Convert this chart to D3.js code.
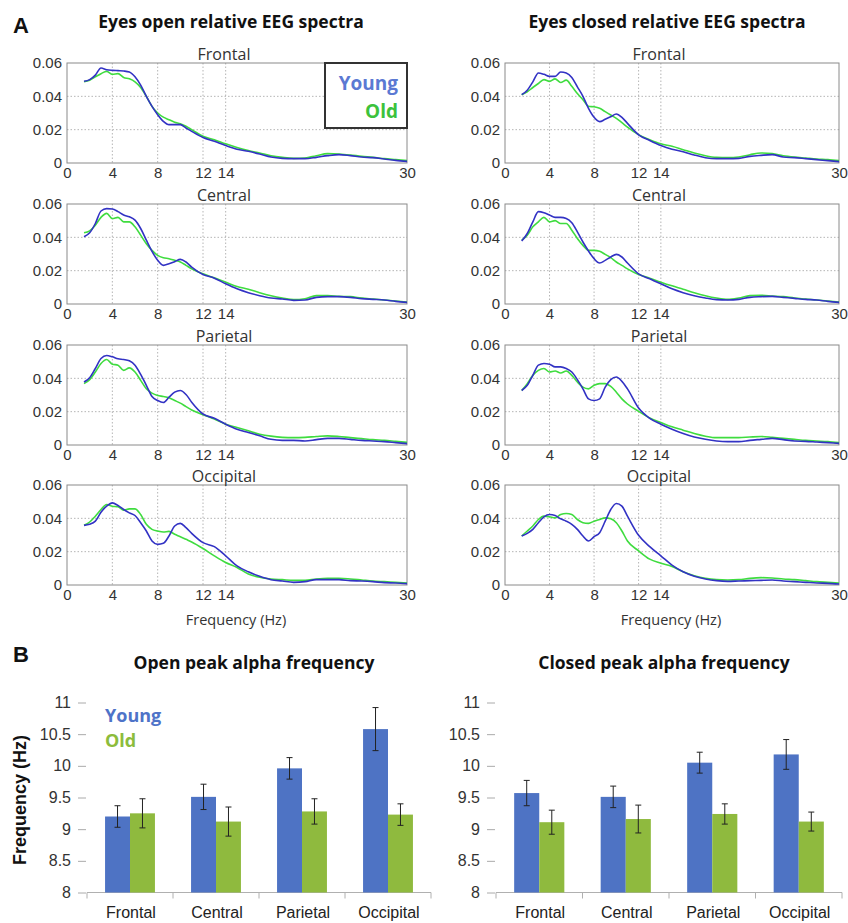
<!DOCTYPE html>
<html>
<head>
<meta charset="utf-8">
<title>EEG spectra and peak alpha frequency</title>
<script src="https://d3js.org/d3.v7.min.js"></script>
<style>
  body { margin: 0; background: #fff; }
  svg text { fill: #333; }
</style>
</head>
<body>
<div id="chart"></div>
<script>

// ---- Data -----------------------------------------------------------------
// spectra: relative power x 1000, sampled at these frequencies (Hz)
var freqs = [1.5,2,2.5,3,3.5,4,4.5,5,5.5,6,6.5,7,7.5,8,8.5,9,9.5,10,10.5,11,12,13,14,15,16,17,18,19,20,21,22,23,24,25,26,27,28,29,30];

var openFrontalYoung = [49,50,52.7,57,56,55.6,55.4,55.2,54.6,51.7,46.7,40,34,29,25,23,23,23,21,19,15.3,13,10.5,8.3,7,5.4,3.6,2.8,2.6,2.6,3.4,4.4,5,4.4,3.6,3.2,2.4,1.6,1.0];
var openFrontalOld   = [48.7,49.7,51.7,53.6,55,53.2,53.6,51.3,50.5,48.7,45.3,40,34,30,27.5,26,24.5,23.5,22,20,16,14,11.5,9.3,7.5,6,4.4,3.4,2.8,3,4.4,5.6,5.4,4.8,4,3.4,2.6,2,1.4];
var openCentralYoung = [40.3,42.7,48.3,55.8,57.2,57,55.4,53.4,52.3,50.3,45.3,38.3,31.6,26.2,23.2,24.2,25.4,26.8,25.2,22.1,17.7,15.5,12.1,9.1,6.8,5,3.6,3,2.2,2.4,4,4.4,4.4,4,3.2,2.8,2.4,1.6,1];
var openCentralOld   = [42.7,43.9,47.3,52,54.4,51.3,52,49.3,49.3,46.3,41.3,36.2,32.2,29.2,27.8,27.2,26.2,25.2,23.2,21.1,18.1,15.7,13.1,10.5,8.9,6.8,5,3.6,2.6,3.2,5,5,4.6,4.4,3.6,3,2.4,1.8,1.2];
var openParietalYoung = [37.8,40.4,45.9,51.9,53.7,52.9,51.7,51.3,50.5,47.9,42.4,35.8,29.1,26.7,25.5,28.7,31.7,32.7,30.3,25.7,18.6,16,12.5,9.5,7.5,5.5,3.4,2.8,2.8,2.4,3.2,4,4,3.4,2.8,2.4,2,1.4,0.8];
var openParietalOld   = [36.8,39.2,43.8,48.9,51.3,48.5,47.9,44.8,46.3,43.8,38.8,33.7,31.1,29.7,29.1,28.3,26.7,25.1,23,21,18.2,15.6,12.5,10.5,8.5,6.5,5.3,4.6,4.4,4.6,5.1,5.5,5.1,4.4,3.8,3.2,2.8,2.2,1.6];
var openOccipitalYoung = [35.8,36.4,38.3,43.7,47.3,49.3,47.7,45.3,43.3,41.7,37.4,32.4,26.4,24.4,25,29.4,35.4,37,34.4,31,25.4,23,17.5,11.5,7.9,5.2,3.2,2.4,1.6,2,3.2,3.2,3.2,2.6,2.4,2,1.4,1.2,0.8];
var openOccipitalOld   = [35.8,37.8,41.3,45.3,48.3,47.3,46.9,44.9,45.7,45.7,42.3,36.4,33.4,32.4,31.8,32.2,30.4,29,27.4,25.8,21.9,17.5,13.5,10.5,6.6,4.6,3.6,3.2,2.8,2.8,3.6,4,4,3.6,3,2.4,2,1.6,1.2];

var closedFrontalYoung = [41,43.7,48.7,54,53.2,52,52,54.6,54,51.3,45.7,40,32.8,27.4,24.8,26.2,27.8,29.4,27.4,23.8,16.9,13.5,10.5,8.3,6.8,4.8,3.2,2.6,2.6,2.8,4,4.6,5,3.6,3.2,2.6,2,1.4,0.8];
var closedFrontalOld   = [41,42.7,45.3,47.7,50,49,50.5,48.3,49.7,46,41.7,38,34,33.7,32.8,30.8,28.8,26.8,24.2,21.5,17,14,11.5,10,8,6,4.4,3.4,3.2,3.6,5,6,5.6,4.4,3.6,3,2.4,2,1.4];
var closedCentralYoung = [37.8,42.3,49.3,55.4,54.8,53.4,52,52,51.3,48.7,43.3,37.2,31.8,27.2,24.6,26.2,28.2,29.8,28.2,24.6,18.1,15.1,12.1,9.1,6.8,5,3.6,2.6,2.4,2.8,4,4.4,4.6,4,3.4,2.8,2.4,1.6,1];
var closedCentralOld   = [38.3,41.3,46.3,49.3,52,49.3,50,48.3,48.3,44.3,39.3,35.2,32.2,32.2,31.6,29.8,27.8,25.2,23.2,21.1,17.7,15.5,13.1,10.9,8.9,6.8,5,3.6,2.8,3.6,5,5.2,4.8,4.4,3.6,3,2.4,1.8,1.2];
var closedParietalYoung = [32.7,35.8,41.8,47.9,48.9,48.5,46.9,46.9,45.9,43.8,39.2,33.7,27.7,26.7,27.7,34.7,39.2,40.8,38.2,33.7,22.2,16,12.5,9.5,6.9,4.8,3.4,2.4,2,2,2.8,3.4,4,3.2,2.4,2.2,1.8,1.4,1];
var closedParietalOld   = [32.7,36.8,41.8,44.8,45.9,43.8,44.4,43.2,44.4,41.8,37.8,34.7,33.7,35.8,36.8,36.8,35.2,31.7,27.7,24.6,20.2,16.2,13.5,10.9,8.9,6.9,5.3,4.4,4.4,4.4,4.8,5.1,4.6,4,3.4,2.8,2.4,2,1.4];
var closedOccipitalYoung = [29.4,31,33.4,37.4,40.9,42.3,41.7,39.7,38.3,36.4,33.4,29.4,26.4,29,31.4,38.3,45.3,48.9,47.3,41.3,29.8,23,17.5,11.9,7.9,5.2,3.6,2.6,2.2,2.4,2.6,2.8,3,2.4,2,1.6,1.2,1,0.6];
var closedOccipitalOld   = [29.4,32.4,35.4,39.3,41.3,40.9,40.3,42.3,42.9,42.3,39.3,37.4,37,38.3,39.3,40.3,39.7,37.4,32.4,26.4,20.5,15.5,13.1,11.1,7.9,5.6,4,3.2,3,3.2,4,4.4,4.2,3.6,3.2,2.6,2,1.6,1.2];

var regions = ["Frontal", "Central", "Parietal", "Occipital"];
var xTicks = [0, 4, 8, 12, 14, 30];
var yTicks = [0, 0.02, 0.04, 0.06];

// peak alpha frequency (Hz) and error bars
var paTicks = [8, 8.5, 9, 9.5, 10, 10.5, 11];
var openYoung = [9.2, 9.51, 9.96, 10.58];
var openYoungErr = [0.17, 0.2, 0.17, 0.34];
var openOld = [9.25, 9.12, 9.28, 9.23];
var openOldErr = [0.23, 0.23, 0.2, 0.17];
var closedYoung = [9.57, 9.51, 10.05, 10.18];
var closedYoungErr = [0.2, 0.17, 0.165, 0.235];
var closedOld = [9.11, 9.16, 9.24, 9.12];
var closedOldErr = [0.19, 0.22, 0.16, 0.15];

// ---- Setup ----------------------------------------------------------------
var W = 848, H = 923;
var svg = d3.select("#chart").append("svg")
    .attr("width", W).attr("height", H)
    .style("font-family", "'Liberation Sans', Arial, sans-serif");

var lineYoung = "#3232c4", lineOld = "#3fdc3f";
var barYoung = "#4e73c4", barOld = "#8fba3e";

var panelTops = [63, 204, 345, 485];
var panelH = 100;

var spectra = [
  { title: "Eyes open relative EEG spectra", tx: 231, x0: 67, x1: 407,
    young: [openFrontalYoung, openCentralYoung, openParietalYoung, openOccipitalYoung],
    old: [openFrontalOld, openCentralOld, openParietalOld, openOccipitalOld], legend: true },
  { title: "Eyes closed relative EEG spectra", tx: 667, x0: 505, x1: 839,
    young: [closedFrontalYoung, closedCentralYoung, closedParietalYoung, closedOccipitalYoung],
    old: [closedFrontalOld, closedCentralOld, closedParietalOld, closedOccipitalOld], legend: false }
];

// panel letters
svg.append("text").attr("x", 13).attr("y", 33).text("A")
    .style("font-size", "22px").style("font-weight", "bold").style("fill", "#111");
svg.append("text").attr("x", 13).attr("y", 662).text("B")
    .style("font-size", "22px").style("font-weight", "bold").style("fill", "#111");

// ---- Spectra (A) ----------------------------------------------------------
spectra.forEach(function(col) {
  svg.append("text")
      .attr("x", col.tx).attr("y", 28)
      .attr("text-anchor", "middle")
      .style("font-family", "'Open Sans', sans-serif")
      .style("font-size", "17.5px").style("font-weight", "bold")
      .style("fill", "#111")
      .text(col.title);

  var x = d3.scaleLinear().domain([0, 30]).range([col.x0, col.x1]);

  regions.forEach(function(reg, i) {
    var top = panelTops[i];
    var y = d3.scaleLinear().domain([0, 0.06]).range([top + panelH, top]);
    var g = svg.append("g");

    // dotted grid
    g.selectAll(".vg").data([4, 8, 12, 14]).enter().append("line")
        .attr("x1", d => x(d)).attr("x2", d => x(d))
        .attr("y1", top).attr("y2", top + panelH)
        .attr("stroke", "#b5b5b5").attr("stroke-dasharray", "1.5,2");
    g.selectAll(".hg").data([0.02, 0.04]).enter().append("line")
        .attr("x1", col.x0).attr("x2", col.x1)
        .attr("y1", d => y(d)).attr("y2", d => y(d))
        .attr("stroke", "#b5b5b5").attr("stroke-dasharray", "1.5,2");

    // axes
    var xa = g.append("g").attr("transform", "translate(0," + (top + panelH) + ")")
        .call(d3.axisBottom(x).tickValues(xTicks).tickSize(0).tickPadding(4));
    var ya = g.append("g").attr("transform", "translate(" + col.x0 + ",0)")
        .call(d3.axisLeft(y).tickValues(yTicks).tickSize(0).tickPadding(5)
          .tickFormat(d => d === 0 ? "0" : d3.format(".2f")(d)));
    [xa, ya].forEach(function(a) {
      a.select(".domain").remove();
      a.selectAll("text").style("font-size", "15px").style("fill", "#333")
          .style("font-family", "'Liberation Sans', Arial, sans-serif");
    });

    // box
    g.append("rect")
        .attr("x", col.x0).attr("y", top)
        .attr("width", col.x1 - col.x0).attr("height", panelH)
        .attr("fill", "none").attr("stroke", "#8a8a8a").attr("stroke-width", 1);

    // title
    g.append("text")
        .attr("x", (col.x0 + col.x1) / 2 - 13).attr("y", top - 3)
        .attr("text-anchor", "middle")
        .style("font-family", "'Open Sans', sans-serif")
        .style("font-size", "16px").style("fill", "#333")
        .text(reg);

    var line = d3.line()
        .x((d, k) => x(freqs[k]))
        .y(d => y(d / 1000))
        .curve(d3.curveMonotoneX);

    g.append("path").datum(col.old[i])
        .attr("d", line).attr("fill", "none")
        .attr("stroke", lineOld).attr("stroke-width", 1.6);
    g.append("path").datum(col.young[i])
        .attr("d", line).attr("fill", "none")
        .attr("stroke", lineYoung).attr("stroke-width", 1.6);
  });

  svg.append("text")
      .attr("x", (col.x0 + col.x1) / 2 - 1).attr("y", 625)
      .attr("text-anchor", "middle")
      .style("font-family", "'Open Sans', sans-serif")
      .style("font-size", "14.5px").style("fill", "#333")
      .text("Frequency (Hz)");

  if (col.legend) {
    var lg = svg.append("g");
    lg.append("rect")
        .attr("x", 325).attr("y", 63).attr("width", 82).attr("height", 65)
        .attr("fill", "#fff").attr("stroke", "#333").attr("stroke-width", 2);
    lg.append("text").attr("x", 398).attr("y", 90).attr("text-anchor", "end")
        .style("font-family", "'Open Sans', sans-serif")
        .style("font-size", "19px").style("font-weight", "bold")
        .style("fill", "#5b79d3").text("Young");
    lg.append("text").attr("x", 398).attr("y", 118).attr("text-anchor", "end")
        .style("font-family", "'Open Sans', sans-serif")
        .style("font-size", "19px").style("font-weight", "bold")
        .style("fill", "#3cc23c").text("Old");
  }
});

// ---- Peak alpha bars (B) --------------------------------------------------
var barCharts = [
  { title: "Open peak alpha frequency", tx: 254, x0: 87, x1: 431,
    young: openYoung, youngErr: openYoungErr, old: openOld, oldErr: openOldErr, legend: true },
  { title: "Closed peak alpha frequency", tx: 664, x0: 496, x1: 842,
    young: closedYoung, youngErr: closedYoungErr, old: closedOld, oldErr: closedOldErr, legend: false }
];

var yb = d3.scaleLinear().domain([8, 11]).range([892.5, 702.5]);

barCharts.forEach(function(bc) {
  var g = svg.append("g");

  g.append("text")
      .attr("x", bc.tx).attr("y", 669).attr("text-anchor", "middle")
      .style("font-family", "'Open Sans', sans-serif")
      .style("font-size", "17.5px").style("font-weight", "bold")
      .style("fill", "#111")
      .text(bc.title);

  var xb = d3.scaleBand().domain(regions).range([bc.x0, bc.x1]).padding(0);
  var bw = xb.bandwidth() * 0.29;

  // y axis: labels + short ticks, no line
  var ya = g.append("g").attr("transform", "translate(" + (bc.x0 - 1) + ",0)")
      .call(d3.axisLeft(yb).tickValues(paTicks).tickSize(8).tickPadding(7)
        .tickFormat(d3.format("~g")));
  ya.select(".domain").remove();
  ya.selectAll("line").attr("stroke", "#aaa");
  ya.selectAll("text").style("font-size", "16px").style("fill", "#333");

  // baseline with category separators
  g.append("line")
      .attr("x1", bc.x0).attr("x2", bc.x1)
      .attr("y1", yb(8)).attr("y2", yb(8))
      .attr("stroke", "#b0b0b0");
  g.selectAll(".sep").data(d3.range(5)).enter().append("line")
      .attr("x1", k => bc.x0 + k * xb.step()).attr("x2", k => bc.x0 + k * xb.step())
      .attr("y1", yb(8)).attr("y2", yb(8) + 6)
      .attr("stroke", "#b0b0b0");

  // category labels
  g.selectAll(".cat").data(regions).enter().append("text")
      .attr("x", d => xb(d) + xb.bandwidth() / 2 + 1)
      .attr("y", 918).attr("text-anchor", "middle")
      .style("font-size", "16px").style("fill", "#222")
      .text(d => d);

  var series = [
    { vals: bc.young, errs: bc.youngErr, color: barYoung, off: -bw },
    { vals: bc.old, errs: bc.oldErr, color: barOld, off: 0 }
  ];
  series.forEach(function(s) {
    var cx = function(i) { return xb(regions[i]) + xb.bandwidth() / 2 + s.off; };
    g.selectAll(null).data(s.vals).enter().append("rect")
        .attr("x", (d, i) => cx(i))
        .attr("y", d => yb(d))
        .attr("width", bw)
        .attr("height", d => yb(8) - yb(d))
        .attr("fill", s.color);
    // error bars
    s.vals.forEach(function(v, i) {
      var mx = cx(i) + bw / 2, e = s.errs[i];
      g.append("line").attr("x1", mx).attr("x2", mx)
          .attr("y1", yb(v + e)).attr("y2", yb(v - e))
          .attr("stroke", "#222").attr("stroke-width", 1);
      [v + e, v - e].forEach(function(t) {
        g.append("line").attr("x1", mx - 3).attr("x2", mx + 3)
            .attr("y1", yb(t)).attr("y2", yb(t))
            .attr("stroke", "#222").attr("stroke-width", 1);
      });
    });
  });

  if (bc.legend) {
    g.append("text").attr("x", 105).attr("y", 722)
        .style("font-family", "'Open Sans', sans-serif")
        .style("font-size", "18px").style("font-weight", "bold")
        .style("fill", "#4e73c8").text("Young");
    g.append("text").attr("x", 105).attr("y", 747)
        .style("font-family", "'Open Sans', sans-serif")
        .style("font-size", "18px").style("font-weight", "bold")
        .style("fill", "#8cbc3c").text("Old");
  }
});

// rotated y label for B
svg.append("text")
    .attr("transform", "translate(26,800) rotate(-90)")
    .attr("text-anchor", "middle")
    .style("font-size", "18px").style("font-weight", "bold")
    .style("fill", "#111")
    .text("Frequency (Hz)");

</script>
</body>
</html>
